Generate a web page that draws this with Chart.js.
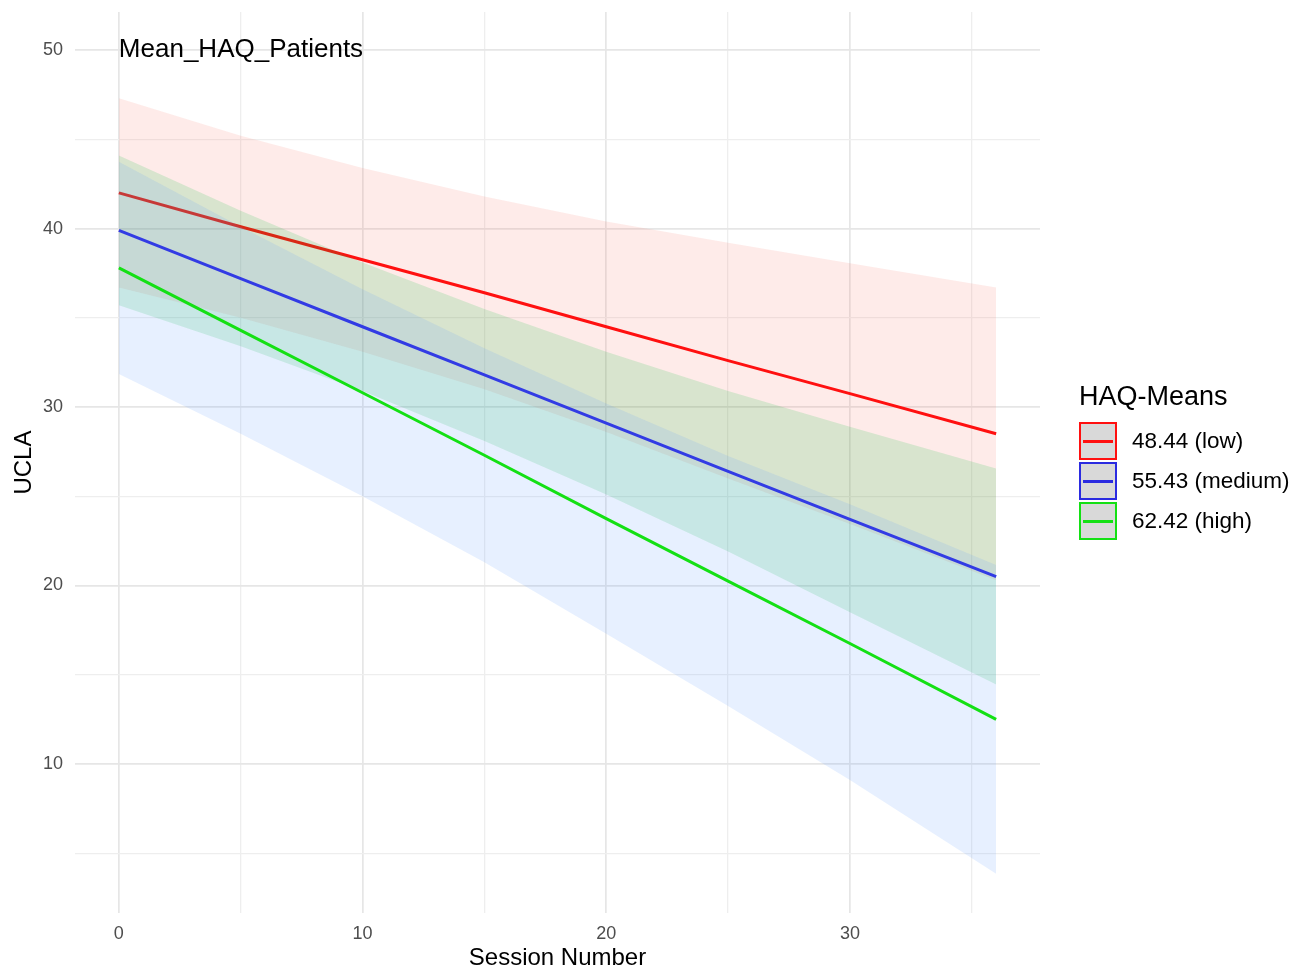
<!DOCTYPE html>
<html>
<head>
<meta charset="utf-8">
<script src="https://cdn.jsdelivr.net/npm/chart.js@4.4.1/dist/chart.umd.min.js"></script>
<style>
  body { margin: 0; background: #fff; font-family: "Liberation Sans", Arial, sans-serif; }
  #wrap { position: relative; width: 1303px; height: 971px; overflow: hidden; }
  #legend { position: absolute; left: 1079px; top: 381px; color: #000; }
  #legend .title { font-size: 27px; line-height: 30px; margin-bottom: 10px; }
  #legend .item { display: flex; align-items: center; height: 40px; }
  #legend .key { width: 34px; height: 34px; border: 2px solid; background: #d9d9d9; position: relative; margin-right: 15px; }
  #legend .key span { position: absolute; left: 2px; right: 2px; top: 15.5px; height: 3px; }
  #legend .label { font-size: 22.5px; }
</style>
</head>
<body>
<div id="wrap">
  <canvas id="chart" width="1303" height="971"></canvas>
  <div id="legend"></div>
</div>
<script>
// session numbers where the predictions were read
const sessions = [0, 5, 10, 15, 20, 25, 30, 36];

// 48.44 (low)
const lowFit   = [42.0, 40.1, 38.25, 36.4, 34.5, 32.6, 30.75, 28.5];
const lowUpper = [47.3, 45.2, 43.4, 41.8, 40.4, 39.2, 38.05, 36.7];
const lowLower = [36.7, 35.0, 33.1, 31.0, 28.6, 26.0, 23.45, 20.3];

// 55.43 (medium)
const medFit   = [39.9, 37.2, 34.5, 31.8, 29.1, 26.4, 23.7, 20.5];
const medUpper = [44.1, 41.0, 38.1, 35.5, 33.1, 30.9, 28.9, 26.55];
const medLower = [35.7, 33.4, 30.9, 28.1, 25.1, 21.9, 18.5, 14.45];

// 62.42 (high)
const highFit   = [37.8, 34.3, 30.8, 27.3, 23.75, 20.25, 16.75, 12.5];
const highUpper = [43.75, 40.1, 36.6, 33.3, 30.2, 27.25, 24.55, 21.15];
const highLower = [31.85, 28.5, 25.0, 21.3, 17.3, 13.25, 9.1, 3.85];

const groupLabels = ["48.44 (low)", "55.43 (medium)", "62.42 (high)"];
const lineColors = ["#ff1010", "#2b2be0", "#14e014"];
const bandColors = ["rgba(248,118,109,0.15)", "rgba(0,186,56,0.15)", "rgba(97,156,255,0.15)"];

const pts = arr => sessions.map((s, i) => ({ x: s, y: arr[i] }));

// line first, then its ribbon (upper fills down to lower)
function group(fit, upper, lower, i) {
	return [
		{ data: pts(fit), fill: false, borderColor: lineColors[i], borderWidth: 3, pointRadius: 0 },
		{ data: pts(upper), fill: "+1", backgroundColor: bandColors[i], borderColor: "transparent", borderWidth: 0, pointRadius: 0 },
		{ data: pts(lower), fill: false, borderColor: "transparent", borderWidth: 0, pointRadius: 0 }
	];
}

// text label inside the panel at session 0, UCLA 50
const panelLabel = {
	id: "panelLabel",
	afterDatasetsDraw(chart) {
		const ctx = chart.ctx;
		ctx.save();
		ctx.font = "26px 'Liberation Sans', Arial, sans-serif";
		ctx.fillStyle = "#000";
		ctx.textAlign = "left";
		ctx.textBaseline = "middle";
		ctx.fillText("Mean_HAQ_Patients", chart.scales.x.getPixelForValue(0), chart.scales.y.getPixelForValue(50));
		ctx.restore();
	}
};

const gridColor = ctx => (ctx.tick && ctx.tick.value % 10 === 0) ? "#e6e6e6" : "#eeeeee";
const gridWidth = ctx => (ctx.tick && ctx.tick.value % 10 === 0) ? 1.7 : 1.3;

new Chart(document.getElementById("chart"), {
	type: "line",
	data: {
		// first dataset is drawn on top
		datasets: [
			...group(highFit, highUpper, highLower, 2),
			...group(medFit, medUpper, medLower, 1),
			...group(lowFit, lowUpper, lowLower, 0)
		]
	},
	options: {
		responsive: false,
		animation: false,
		layout: { padding: { top: 0, right: 263, bottom: -2, left: 0 } },
		scales: {
			x: {
				type: "linear",
				min: -1.8,
				max: 37.8,
				afterFit: s => { s.height = 60; },
				ticks: {
					stepSize: 5,
					includeBounds: false,
					padding: 10,
					color: "#4d4d4d",
					font: { size: 18, family: "'Liberation Sans', Arial, sans-serif" },
					callback: v => v % 10 === 0 ? v : ""
				},
				grid: { color: gridColor, lineWidth: gridWidth, drawTicks: false },
				border: { display: false },
				title: {
					display: true,
					text: "Session Number",
					color: "#000",
					padding: { top: 0, bottom: 0 },
					font: { size: 24, family: "'Liberation Sans', Arial, sans-serif" }
				}
			},
			y: {
				type: "linear",
				min: 1.65,
				max: 52.13,
				afterFit: s => { s.width = 75; },
				ticks: {
					stepSize: 5,
					includeBounds: false,
					padding: 12,
					color: "#4d4d4d",
					font: { size: 18, lineHeight: 0.01, family: "'Liberation Sans', Arial, sans-serif" },
					callback: v => v % 10 === 0 ? v : ""
				},
				grid: { color: gridColor, lineWidth: gridWidth, drawTicks: false },
				border: { display: false },
				title: {
					display: true,
					text: "UCLA",
					color: "#000",
					padding: { top: 10, bottom: 0 },
					font: { size: 24, family: "'Liberation Sans', Arial, sans-serif" }
				}
			}
		},
		plugins: {
			legend: { display: false },
			tooltip: { enabled: false }
		}
	},
	plugins: [panelLabel]
});

// legend to the right of the panel
const legend = document.getElementById("legend");
let html = '<div class="title">HAQ-Means</div>';
groupLabels.forEach((lab, i) => {
	html += '<div class="item"><div class="key" style="border-color:' + lineColors[i] + '"><span style="background:' + lineColors[i] + '"></span></div><div class="label">' + lab + '</div></div>';
});
legend.innerHTML = html;
</script>
</body>
</html>
